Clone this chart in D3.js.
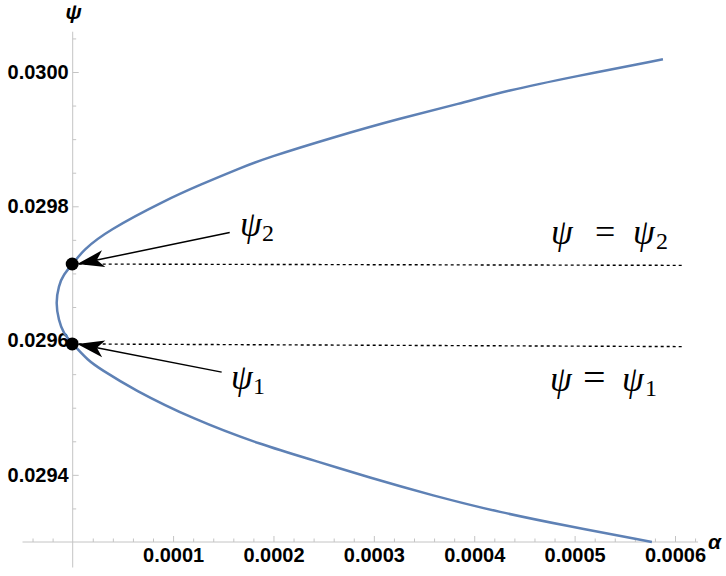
<!DOCTYPE html>
<html>
<head>
<meta charset="utf-8">
<script src="https://cdn.jsdelivr.net/npm/d3@7/dist/d3.min.js"></script>
<style>
    body { margin: 0; background: #fff; }
    svg { display: block; }
    .axis text { font-family: "Liberation Sans", Arial, sans-serif; font-weight: bold; font-size: 20px; fill: #000; }
    .math { font-family: "Liberation Serif", "Times New Roman", serif; fill: #000; }
</style>
</head>
<body>
<div id="wrapper"></div>
<script>
// curve, from the bottom end to the top end
const curvePsi = [0.029300, 0.029324, 0.029344, 0.029369, 0.029397, 0.029419, 0.029445, 0.029483,
    0.029527, 0.029558, 0.029570, 0.029595, 0.029611, 0.029630, 0.029656, 0.029682, 0.029698,
    0.029714, 0.029735, 0.029763, 0.029810, 0.029832, 0.029857, 0.029872, 0.029903, 0.029931,
    0.029953, 0.029972, 0.029993, 0.030019]
const curveAlpha = [0.000577, 0.000492, 0.000426, 0.000359, 0.000293, 0.000246, 0.000187, 0.000120,
    0.0000604, 0.0000272, 0.0000155, 0, -0.0000094, -0.0000139, -0.000017, -0.0000139, -0.0000094,
    0, 0.0000106, 0.0000339, 0.0000936, 0.000127, 0.000167, 0.000193, 0.000260, 0.000326,
    0.000386, 0.000432, 0.000499, 0.000588]

// the two marked roots and their nearly flat dotted lines
const rootNames = ['2', '1']
const rootPsi = [0.029714, 0.029595]
const levelAlpha = [0, 0.000608]
const levelPsi = [[0.029714, 0.029712], [0.029595, 0.029591]]

// arrow tails (data coords)
const arrowTailAlpha = [0.0001564, 0.0001484]
const arrowTailPsi = [0.029761, 0.029553]

// ticks
const xMajor = [0.0001, 0.0002, 0.0003, 0.0004, 0.0005, 0.0006]
const xMinor = [-0.00004, -0.00002, 0.00002, 0.00004, 0.00006, 0.00008, 0.00012, 0.00014, 0.00016, 0.00018,
    0.00022, 0.00024, 0.00026, 0.00028, 0.00032, 0.00034, 0.00036, 0.00038, 0.00042, 0.00044, 0.00046,
    0.00048, 0.00052, 0.00054, 0.00056, 0.00058, 0.00062]
const yMajor = [0.0294, 0.0296, 0.0298, 0.0300]
const yMinor = [0.02935, 0.02945, 0.02950, 0.02955, 0.02965, 0.02970, 0.02975, 0.02985, 0.02990, 0.02995, 0.03005]

const width = 726, height = 576
const curveColor = '#5e81b5'
const axisColor = '#c4c4c4'

const svg = d3.select('#wrapper').append('svg')
    .attr('width', width)
    .attr('height', height)

const x = d3.scaleLinear().domain([0, 0.0006]).range([72.7, 675])
const y = d3.scaleLinear().domain([0.0293, 0.0300]).range([542, 72])

// axis lines (they run a bit past the plot on both ends)
svg.append('line')
    .attr('x1', x(-0.00005)).attr('x2', x(0.000623))
    .attr('y1', y(0.0293)).attr('y2', y(0.0293))
    .attr('stroke', axisColor)
svg.append('line')
    .attr('x1', x(0)).attr('x2', x(0))
    .attr('y1', y(0.029262)).attr('y2', y(0.03006))
    .attr('stroke', axisColor)

const fmt = d3.format('.4f')

svg.append('g').attr('class', 'axis')
    .attr('transform', `translate(0,${y(0.0293)})`)
    .call(d3.axisBottom(x).tickValues(xMajor).tickFormat(fmt).tickSizeInner(-6).tickSizeOuter(0).tickPadding(6))
svg.append('g').attr('class', 'axis')
    .attr('transform', `translate(0,${y(0.0293)})`)
    .call(d3.axisBottom(x).tickValues(xMinor).tickFormat('').tickSizeInner(-3.5).tickSizeOuter(0))

svg.append('g').attr('class', 'axis')
    .attr('transform', `translate(${x(0)},0)`)
    .call(d3.axisLeft(y).tickValues(yMajor).tickFormat(fmt).tickSizeInner(-6).tickSizeOuter(0).tickPadding(4))
svg.append('g').attr('class', 'axis')
    .attr('transform', `translate(${x(0)},0)`)
    .call(d3.axisLeft(y).tickValues(yMinor).tickFormat('').tickSizeInner(-3.5).tickSizeOuter(0))

svg.selectAll('.axis .domain').remove()
svg.selectAll('.axis .tick line').attr('stroke', axisColor)

// axis names
svg.append('text')
    .attr('x', x(0) + 1).attr('y', 19)
    .attr('text-anchor', 'middle')
    .style('font', 'italic bold 21px "Liberation Sans", Arial, sans-serif')
    .text('ψ')
svg.append('text')
    .attr('x', 708).attr('y', y(0.0293) + 7)
    .style('font', 'italic bold 21px "Liberation Sans", Arial, sans-serif')
    .text('α')

// dotted levels
levelPsi.forEach(ps => {
    svg.append('line')
        .attr('x1', x(levelAlpha[0])).attr('y1', y(ps[0]))
        .attr('x2', x(levelAlpha[1])).attr('y2', y(ps[1]))
        .attr('stroke', '#000')
        .attr('stroke-width', 1.4)
        .attr('stroke-dasharray', '3,3')
})

// curve
const pts = curvePsi.map((p, i) => [curveAlpha[i], p])
svg.append('path')
    .datum(pts)
    .attr('fill', 'none')
    .attr('stroke', curveColor)
    .attr('stroke-width', 2.5)
    .attr('d', d3.line().x(d => x(d[0])).y(d => y(d[1])).curve(d3.curveBasis))

// root points
svg.selectAll('.root')
    .data(rootPsi)
    .enter().append('circle')
    .attr('class', 'root')
    .attr('cx', x(0) - 0.5)
    .attr('cy', d => y(d))
    .attr('r', 6.5)
    .attr('fill', '#000')

// arrows
rootPsi.forEach((p, i) => {
    let x0 = x(0), y0 = y(p)
    let x1 = x(arrowTailAlpha[i]), y1 = y(arrowTailPsi[i])
    let ang = Math.atan2(y0 - y1, x0 - x1)
    let tipX = x0 + 4.5, tipY = y0
    let deg = ang * 180 / Math.PI
    let L = 27, W = 8.5, N = 20
    let backX = tipX - N * Math.cos(ang), backY = tipY - N * Math.sin(ang)
    svg.append('line')
        .attr('x1', x1).attr('y1', y1)
        .attr('x2', backX).attr('y2', backY)
        .attr('stroke', '#000')
        .attr('stroke-width', 1.5)
    svg.append('path')
        .attr('transform', `translate(${tipX},${tipY}) rotate(${deg})`)
        .attr('d', `M0,0 L${-L},${-W} L${-N},0 L${-L},${W} Z`)
        .attr('fill', '#000')
})

// math labels
function mathLabel(px, py, parts) {
    let t = svg.append('text').attr('class', 'math')
    parts.forEach(pt => {
        t.append('tspan')
            .attr('x', px + pt.dx)
            .attr('y', py + (pt.sub ? 5 : 0))
            .style('font-size', pt.size || (pt.sub ? '24px' : '35px'))
            .style('font-style', pt.it ? 'italic' : 'normal')
            .text(pt.s)
    })
}

mathLabel(240, 236, [{ s: 'ψ', dx: 0, it: true }, { s: rootNames[0], dx: 22, sub: true }])
mathLabel(231, 389, [{ s: 'ψ', dx: 0, it: true }, { s: rootNames[1], dx: 22, sub: true }])
mathLabel(551, 244, [{ s: 'ψ', dx: 0, it: true }, { s: '=', dx: 44, size: '36px' }, { s: 'ψ', dx: 82, it: true }, { s: rootNames[0], dx: 105, sub: true }])
mathLabel(550, 391, [{ s: 'ψ', dx: 0, it: true }, { s: '=', dx: 33, size: '40px' }, { s: 'ψ', dx: 72, it: true }, { s: rootNames[1], dx: 95, sub: true }])
</script>
</body>
</html>
